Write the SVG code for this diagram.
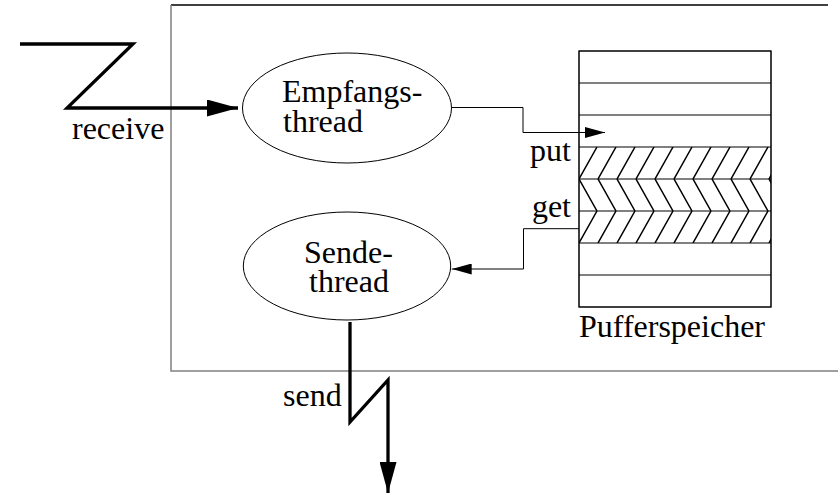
<svg xmlns="http://www.w3.org/2000/svg" width="838" height="493" viewBox="0 0 838 493">
<style>
text{font-family:"Liberation Serif","Times New Roman","DejaVu Serif","Noto Serif",Times,serif;font-size:32px;fill:#000}
.thin{fill:none;stroke:#000;stroke-width:1}
.thick{fill:none;stroke:#000;stroke-width:3.3;stroke-linejoin:miter}
.node{fill:#fff;stroke:#000;stroke-width:1}
</style>
<defs>
<pattern id="hatchF" patternUnits="userSpaceOnUse" x="579" y="147" width="19" height="32">
<path d="M0,32 L18,0 M19,32 L37,0 M-19,32 L-1,0" stroke="#000" stroke-width="1.5" fill="none"/>
</pattern>
<pattern id="hatchB" patternUnits="userSpaceOnUse" x="579" y="147" width="19" height="32">
<path d="M0,0 L18,32 M19,0 L37,32 M-19,0 L-1,32" stroke="#000" stroke-width="1.5" fill="none"/>
</pattern>
<marker id="arrS" viewBox="0 0 20 11" refX="20" refY="5.5" markerWidth="20" markerHeight="11" markerUnits="userSpaceOnUse" orient="auto">
<path d="M0,0 L20,5.5 L0,11 Z" fill="#000"/>
</marker>
<marker id="arrL" viewBox="0 0 31 17" refX="31" refY="8.5" markerWidth="31" markerHeight="17" markerUnits="userSpaceOnUse" orient="auto">
<path d="M0,0 L31,8.5 L0,17 Z" fill="#000"/>
</marker>
</defs>
<g id="frame">
<path d="M171,5 L828,5" stroke="#000" stroke-width="1.5" fill="none"/>
<path d="M171,5 L171,371 L838,371" stroke="#808080" stroke-width="1.5" fill="none"/>
</g>
<g id="buffer">
<rect x="579" y="51" width="192" height="256" class="node"/>
<rect x="579" y="147" width="192" height="32" fill="url(#hatchF)"/>
<rect x="579" y="179" width="192" height="32" fill="url(#hatchB)"/>
<rect x="579" y="211" width="192" height="32" fill="url(#hatchF)"/>
<path class="thin" d="M579,83 H771 M579,115 H771 M579,147 H771 M579,179 H771 M579,211 H771 M579,243 H771 M579,275 H771"/>
<rect x="579" y="51" width="192" height="256" class="thin"/>
<text x="579" y="337">Pufferspeicher</text>
<text x="571" y="161" text-anchor="end">put</text>
<text x="571" y="217" text-anchor="end">get</text>
</g>
<g id="empfangs">
<ellipse cx="347" cy="108" rx="104.5" ry="55" class="node"/>
<text x="282" y="102">Empfangs-</text>
<text x="283" y="132">thread</text>
</g>
<g id="sende">
<ellipse cx="347" cy="266" rx="103.7" ry="54" class="node"/>
<text x="304" y="263">Sende-</text>
<text x="309" y="292">thread</text>
</g>
<g id="connectors">
<path class="thin" d="M451.7,107.5 H523 V132.5 H605" marker-end="url(#arrS)"/>
<path class="thin" d="M579,228.7 H523.5 V269 H451.7" marker-end="url(#arrS)"/>
<path class="thick" d="M20,44 H133 L67,108 H238" marker-end="url(#arrL)"/>
<path class="thick" d="M350,322 V422 L388,380 V493" marker-end="url(#arrL)"/>
<text x="72" y="139">receive</text>
<text x="283" y="406">send</text>
</g>
</svg>
